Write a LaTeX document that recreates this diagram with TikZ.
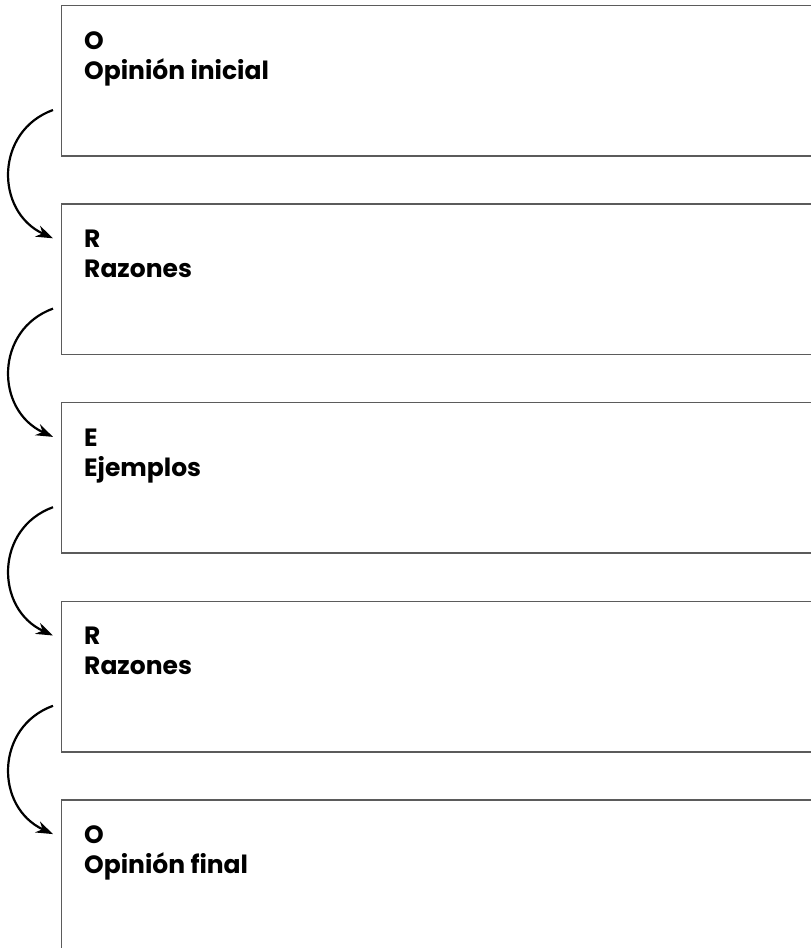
\documentclass[tikz,border=0pt]{standalone}
\usepackage{fontspec}
\setmainfont{Poppins}
\usetikzlibrary{arrows.meta}
\definecolor{boxgray}{HTML}{5B5B5B}
\begin{document}
\begin{tikzpicture}[x=1pt,y=-1pt,
  box/.style={draw=boxgray, line width=1.5pt, minimum width=790pt, minimum height=150.5pt, anchor=north west, inner sep=0pt},
  lbl/.style={anchor=base west, inner sep=0pt, font=\bfseries\fontsize{25}{30}\selectfont},
  flow/.style={-{Stealth[length=17pt,width=12pt,inset=5.5pt]}, line width=2.2pt}]
\useasboundingbox (0,0) rectangle (811,948);
\clip (0,0) rectangle (811,948);
\node[box] (b1) at (60.5,4.7) {};
\node[box] (b2) at (60.5,203.3) {};
\node[box] (b3) at (60.5,401.9) {};
\node[box] (b4) at (60.5,600.5) {};
\node[box] (b5) at (60.5,799.1) {};
\foreach \b/\l/\t in {b1/O/Opinión inicial, b2/R/Razones, b3/E/Ejemplos, b4/R/Razones, b5/O/Opinión final}{
  \node[lbl] (\b l) at ([shift={(23.5,44.3)}]\b.north west) {\l};
  \node[lbl] (\b t) at ([shift={(23.5,74.3)}]\b.north west) {\t};
}
\foreach \a/\b in {b1/b2, b2/b3, b3/b4, b4/b5}{
  \draw[flow] ([shift={(-7.5,29.3)}]\a.west) .. controls ++(-58,21) and ([shift={(-66,-68)}]\b.west) .. ([shift={(-7.5,-41)}]\b.west);
}
\end{tikzpicture}
\end{document}
